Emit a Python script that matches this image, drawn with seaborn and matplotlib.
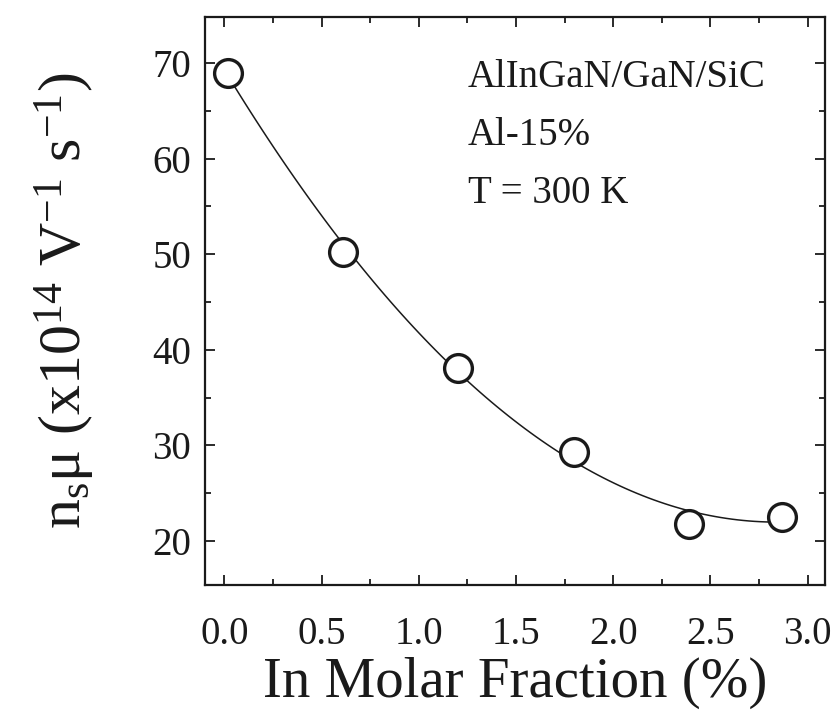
import numpy as np
import pandas as pd
import matplotlib
matplotlib.use("Agg")
import matplotlib.pyplot as plt
import seaborn as sns
from matplotlib.ticker import MultipleLocator

# Data
in_fraction = [0.02, 0.61, 1.20, 1.80, 2.39, 2.87]
ns_mu = [68.9, 50.2, 38.1, 29.3, 21.8, 22.5]
annotations = ["AlInGaN/GaN/SiC", "Al-15%", "T = 300 K"]
x_ticks = [0.0, 0.5, 1.0, 1.5, 2.0, 2.5, 3.0]
y_ticks = [20, 30, 40, 50, 60, 70]

df = pd.DataFrame({"x": in_fraction, "y": ns_mu})

sns.set_style("ticks")
plt.rcParams["font.family"] = ["Liberation Serif", "DejaVu Serif"]
plt.rcParams["mathtext.fontset"] = "stix"
plt.rcParams["mathtext.default"] = "regular"

fig = plt.figure(figsize=(8.34, 7.2), dpi=100)
ax = fig.add_axes([205/834, 1-585/720, 620/834, 568/720])

sns.regplot(data=df, x="x", y="y", order=3, ci=None, scatter=False,
            truncate=True, ax=ax, line_kws=dict(color="#1a1a1a", lw=1.1))
sns.scatterplot(data=df, x="x", y="y", ax=ax, s=400, marker="o",
                facecolor="white", edgecolor="#1a1a1a", linewidth=2.4, zorder=5)

ax.set_xlim(-0.10, 3.09)
ax.set_ylim(15.4, 74.8)
ax.set_xticks(x_ticks)
ax.set_xticklabels([f"{v:.1f}" for v in x_ticks])
ax.set_yticks(y_ticks)
ax.xaxis.set_minor_locator(MultipleLocator(0.25))
ax.yaxis.set_minor_locator(MultipleLocator(5))
ax.tick_params(which="both", direction="in", top=True, right=True,
               colors="#1a1a1a", width=1.3)
ax.tick_params(axis="x", which="major", length=7, labelsize=28, pad=22)
ax.tick_params(axis="y", which="major", length=7, labelsize=28, pad=10)
ax.tick_params(which="minor", length=4)
for s in ax.spines.values():
    s.set_linewidth(1.6)
    s.set_color("#1a1a1a")

ax.set_xlabel("In Molar Fraction (%)", fontsize=41, labelpad=3, color="#1a1a1a")
ax.set_ylabel(r"n$_{s}$μ (x10$^{14}$ V$^{-1}$ s$^{-1}$)", fontsize=43,
              labelpad=40, color="#1a1a1a")

ys = [0.893, 0.792, 0.690]
for t, yy in zip(annotations, ys):
    ax.text(0.424, yy, t, transform=ax.transAxes, fontsize=28,
            va="center", ha="left", color="#1a1a1a")

fig.savefig("out.png", dpi=100)
